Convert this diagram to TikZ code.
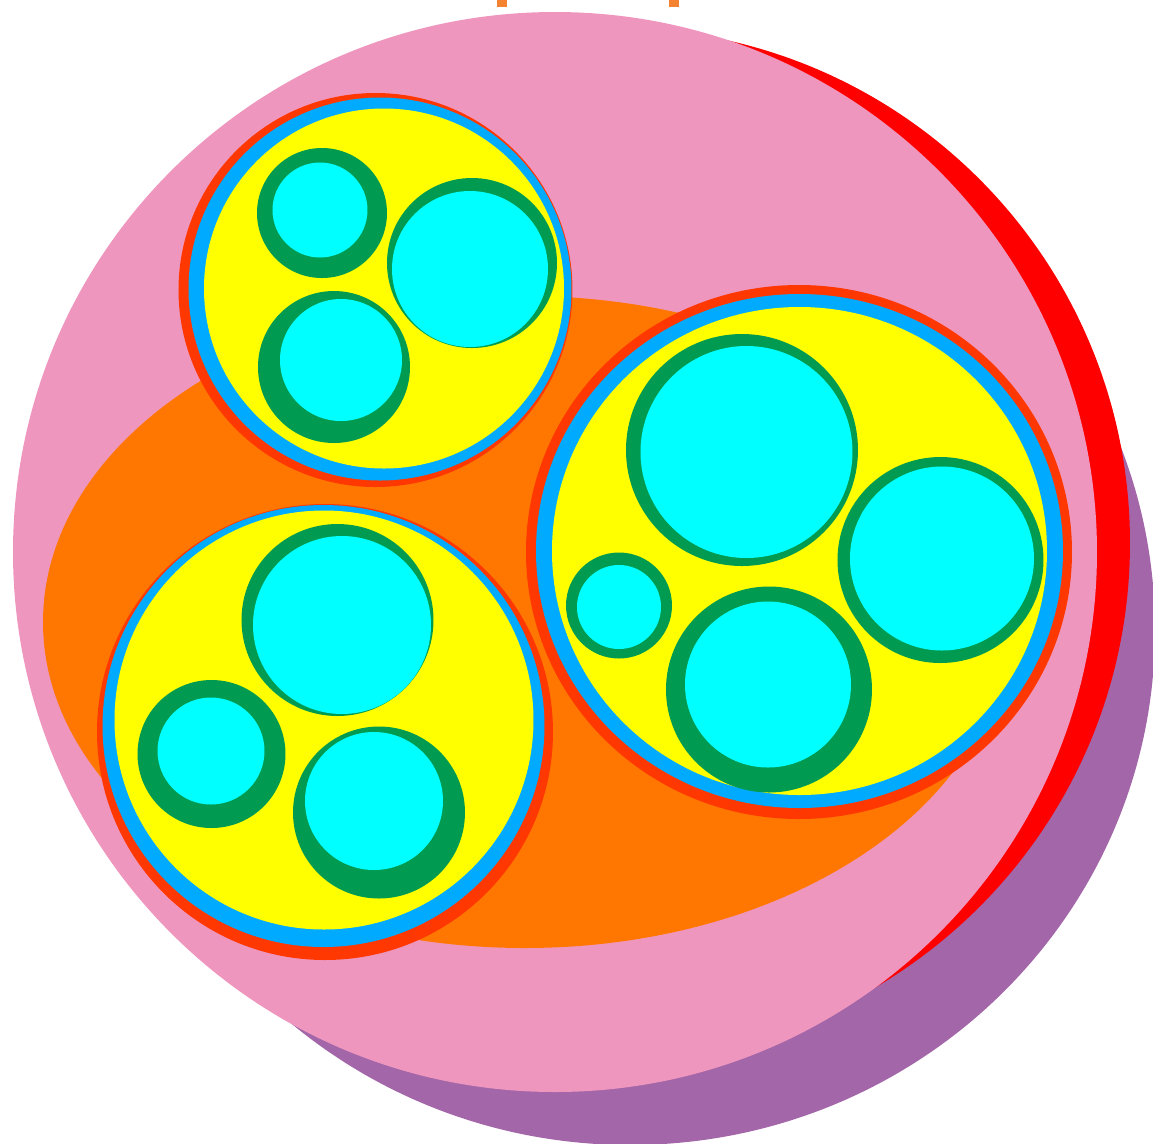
\documentclass[tikz,border=0pt]{standalone}
\definecolor{epipink}{RGB}{239,150,190}
\definecolor{shadepurple}{RGB}{163,102,168}
\definecolor{rimred}{RGB}{255,0,0}
\definecolor{fatorange}{RGB}{255,119,0}
\definecolor{perired}{RGB}{255,55,0}
\definecolor{sheathblue}{RGB}{0,170,255}
\definecolor{endoyellow}{RGB}{255,255,0}
\definecolor{myelingreen}{RGB}{0,155,80}
\definecolor{axoncyan}{RGB}{0,255,255}
\definecolor{titleorange}{RGB}{245,130,48}
\begin{document}
\begin{tikzpicture}[x=0.01cm, y=-0.01cm,
    peri/.style={fill=perired}, sheath/.style={fill=sheathblue}, endo/.style={fill=endoyellow},
    myelin/.style={fill=myelingreen}, axon/.style={fill=axoncyan}]
\clip (0,0) rectangle (1153,1144);
\fill[titleorange] (497,0) rectangle (507,7);
\fill[titleorange] (669,0) rectangle (679,7);

\fill[shadepurple] (630,630) ellipse [x radius=525, y radius=515];
\fill[rimred] (615,543) circle (515);
\fill[epipink] (555,552) ellipse [x radius=542, y radius=540];
\fill[fatorange] (525,622) ellipse [x radius=482, y radius=326];

\fill[peri] (375.5,290) circle (197);
\fill[sheath] (380,289) circle (191.5);
\fill[endo] (384,288.5) circle (180);
\fill[myelin] (322,213) circle (65);
\fill[axon] (320,210) circle (47.5);
\fill[myelin] (472,263) circle (85);
\fill[axon] (470,269) circle (78);
\fill[myelin] (334,367) circle (76);
\fill[axon] (341,360) circle (61);

\fill[peri] (325,732) circle (228);
\fill[sheath] (323.5,726) circle (221);
\fill[endo] (324,720) circle (209.5);
\fill[myelin] (337.5,620) circle (96);
\fill[axon] (342,625) circle (89);
\fill[myelin] (211.5,754) circle (74);
\fill[axon] (211,751) circle (53.5);
\fill[myelin] (379,812.5) circle (86);
\fill[axon] (374,801) circle (69);

\fill[peri] (799,552) ellipse [x radius=273, y radius=267];
\fill[sheath] (799.5,551) ellipse [x radius=263.5, y radius=257];
\fill[endo] (799.5,551) ellipse [x radius=247.5, y radius=244];
\fill[myelin] (742,450) circle (116);
\fill[axon] (746.5,452) circle (106);
\fill[myelin] (940.5,560) circle (103);
\fill[axon] (942,558.5) circle (92);
\fill[myelin] (619,605.5) circle (53);
\fill[axon] (619,607) circle (42);
\fill[myelin] (769,689.5) circle (103);
\fill[axon] (768,684.5) circle (83);

\end{tikzpicture}
\end{document}
